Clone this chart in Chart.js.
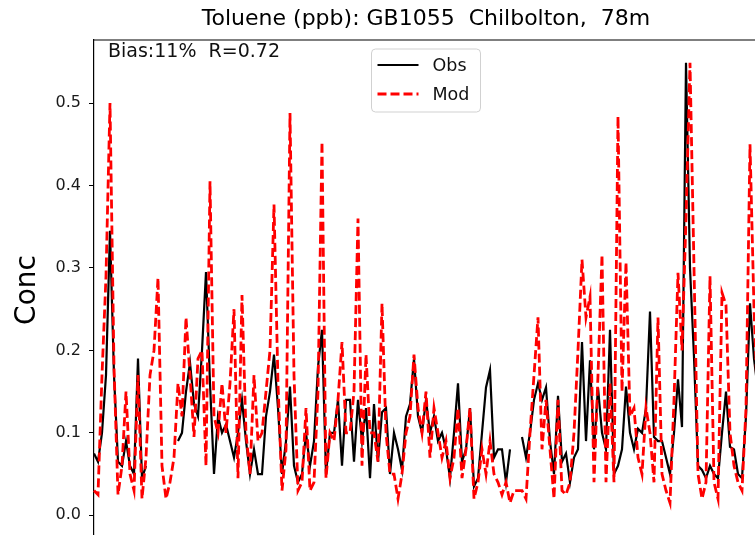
<!DOCTYPE html>
<html><head><meta charset="utf-8">
<script src="https://cdn.jsdelivr.net/npm/chart.js@4.4.0/dist/chart.umd.min.js"></script>
<style>html,body{margin:0;padding:0;background:#fff;overflow:hidden;width:755px;height:535px}canvas{display:block}</style>
</head><body><canvas id="c" width="852" height="560"></canvas>
<script>
const chartTitle = 'Toluene (ppb): GB1055  Chilbolton,  78m';
const statsText = 'Bias:11%  R=0.72';
const yLabel = 'Conc';
const seriesNames = ['Obs', 'Mod'];
const yTicks = [0.0, 0.1, 0.2, 0.3, 0.4, 0.5];

const hours = [
  0,1,2,3,4,5,6,7,8,9,10,11,12,13,14,15,16,17,18,19,
  20,21,22,23,24,25,26,27,28,29,30,31,32,33,34,35,36,37,38,39,
  40,41,42,43,44,45,46,47,48,49,50,51,52,53,54,55,56,57,58,59,
  60,61,62,63,64,65,66,67,68,69,70,71,72,73,74,75,76,77,78,79,
  80,81,82,83,84,85,86,87,88,89,90,91,92,93,94,95,96,97,98,99,
  100,101,102,103,104,105,106,107,108,109,110,111,112,113,114,115,116,117,118,119,
  120,121,122,123,124,125,126,127,128,129,130,131,132,133,134,135,136,137,138,139,
  140,141,142,143,144,145,146,147,148,149,150,151,152,153,154,155,156,157,158,159,
  160,161,162,163,164,165,166
];

const obs = [
  0.075,0.065,0.10,0.17,0.345,0.17,0.065,0.06,0.09,0.06,
  0.05,0.19,0.045,0.06,null,null,null,null,null,null,
  null,0.09,0.10,0.15,0.185,0.135,0.12,0.20,0.295,0.16,
  0.05,0.12,0.10,0.11,0.09,0.07,0.10,0.14,0.09,0.05,
  0.08,0.05,0.05,0.12,0.15,0.195,0.13,0.05,0.09,0.156,
  0.06,0.04,0.05,0.10,0.06,0.09,0.18,0.225,0.05,0.10,
  0.10,0.14,0.06,0.14,0.14,0.065,0.14,0.09,0.13,0.045,
  0.135,0.065,0.125,0.13,0.05,0.10,0.08,0.055,0.12,0.135,
  0.19,0.12,0.10,0.14,0.10,0.12,0.09,0.10,0.08,0.045,
  0.10,0.16,0.065,0.08,0.13,0.035,0.045,0.10,0.155,0.176,
  0.07,0.08,0.08,0.04,0.08,null,null,0.095,0.07,0.10,
  0.14,0.16,0.14,0.155,0.09,0.05,0.145,0.065,0.075,0.04,
  0.07,0.08,0.21,0.09,0.188,0.08,0.155,0.10,0.08,0.225,
  0.05,0.06,0.08,0.156,0.10,0.08,0.105,0.10,0.13,0.247,
  0.095,0.09,0.09,0.07,0.05,0.10,0.165,0.107,0.549,0.30,
  0.192,0.06,0.055,0.045,0.06,0.05,0.045,0.10,0.15,0.083,
  0.08,0.05,0.045,0.12,0.257,0.19,0.15
];

const mod = [
  0.03,0.025,0.17,0.29,0.50,0.18,0.025,0.06,0.15,0.05,
  0.03,0.17,0.02,0.07,0.17,0.20,0.288,0.06,0.02,0.04,
  0.07,0.16,0.12,0.24,0.17,0.095,0.19,0.20,0.06,0.405,
  0.12,0.10,0.16,0.10,0.16,0.25,0.045,0.267,0.10,0.05,
  0.17,0.09,0.10,0.15,0.20,0.377,0.16,0.03,0.08,0.488,
  0.17,0.03,0.04,0.13,0.03,0.04,0.15,0.453,0.045,0.10,
  0.09,0.14,0.21,0.10,0.10,0.15,0.36,0.06,0.195,0.10,
  0.10,0.065,0.257,0.10,0.05,0.05,0.02,0.05,0.10,0.12,
  0.195,0.13,0.10,0.15,0.07,0.13,0.10,0.07,0.09,0.045,
  0.07,0.13,0.045,0.08,0.13,0.02,0.04,0.08,0.05,0.09,
  0.05,0.04,0.025,0.04,0.015,0.03,0.03,0.03,0.02,0.10,
  0.17,0.24,0.08,0.14,0.08,0.02,0.14,0.03,0.025,0.04,
  0.10,0.20,0.31,0.24,0.265,0.04,0.17,0.316,0.04,0.16,
  0.04,0.484,0.15,0.307,0.12,0.13,0.07,0.05,0.13,0.10,
  0.04,0.24,0.05,0.03,0.015,0.14,0.294,0.20,0.36,0.549,
  0.30,0.05,0.02,0.04,0.29,0.04,0.02,0.27,0.255,0.10,
  0.06,0.04,0.03,0.13,0.45,0.25,0.12
];

const FONT = '"DejaVu Sans", Verdana, sans-serif';

const deco = {
  id: 'deco',
  afterDraw(chart) {
    const {ctx, chartArea: a} = chart;
    ctx.save();
    ctx.strokeStyle = '#000';
    ctx.lineWidth = 1.2;
    ctx.setLineDash([]);
    ctx.beginPath();
    ctx.moveTo(a.left, a.top); ctx.lineTo(a.right, a.top);
    ctx.lineTo(a.right, a.bottom); ctx.lineTo(a.left, a.bottom);
    ctx.stroke();

    ctx.fillStyle = '#000';
    ctx.textBaseline = 'middle';
    ctx.textAlign = 'center';
    ctx.font = '22px ' + FONT;
    ctx.fillText(chartTitle, (a.left + a.right) / 2, 19);

    ctx.textAlign = 'left';
    ctx.font = '19px ' + FONT;
    ctx.fillStyle = '#111';
    ctx.fillText(statsText, a.left + 14, a.top + 12);

    // legend (upper center)
    const cx = (a.left + a.right) / 2;
    const bw = 109, bh = 63;
    const bx = cx - bw / 2, by = a.top + 9;
    ctx.fillStyle = 'rgba(255,255,255,0.85)';
    ctx.strokeStyle = 'rgba(204,204,204,0.9)';
    ctx.lineWidth = 1;
    ctx.beginPath();
    ctx.roundRect(bx, by, bw, bh, 4);
    ctx.fill(); ctx.stroke();
    const ds = chart.data.datasets;
    const order = [1, 0];
    order.forEach((di, k) => {
      const d = ds[di];
      const y = by + 16 + k * 29;
      ctx.strokeStyle = d.borderColor;
      ctx.lineWidth = d.borderWidth;
      ctx.setLineDash(d.borderDash || []);
      ctx.beginPath();
      ctx.moveTo(bx + 6, y); ctx.lineTo(bx + 47, y);
      ctx.stroke();
      ctx.setLineDash([]);
      ctx.fillStyle = '#111';
      ctx.font = '17.5px ' + FONT;
      ctx.fillText(d.label, bx + 61, y + 1);
    });
    ctx.restore();
  }
};

new Chart(document.getElementById('c'), {
  type: 'line',
  data: {
    labels: hours,
    datasets: [
      { label: seriesNames[1], data: mod, borderColor: '#ff0000', borderWidth: 2.8,
        borderDash: [9, 4], pointRadius: 0, tension: 0, order: 0, spanGaps: false },
      { label: seriesNames[0], data: obs, borderColor: '#000000', borderWidth: 2.2,
        pointRadius: 0, tension: 0, order: 1, spanGaps: false }
    ]
  },
  options: {
    responsive: false,
    animation: false,
    layout: { padding: { top: 40, left: 0, right: 94, bottom: 20 } },
    plugins: { legend: { display: false }, tooltip: { enabled: false }, title: { display: false } },
    scales: {
      x: { type: 'category', display: false, offset: false },
      y: {
        min: -0.030, max: 0.5765,
        afterBuildTicks: (s) => { s.ticks = yTicks.map(v => ({ value: v })); },
        afterFit: (s) => { s.width = 94; },
        ticks: { padding: 8, color: '#1a1a1a', font: { family: FONT, size: 16 },
                 callback: (v) => Number(v).toFixed(1) },
        grid: { display: true, drawOnChartArea: false, drawTicks: true, tickLength: 5, color: '#000', lineWidth: 1 },
        border: { display: true, color: '#000', width: 1.2 },
        title: { display: true, text: yLabel, color: '#000', font: { family: FONT, size: 28 }, padding: { top: 11, bottom: 0 } }
      }
    }
  },
  plugins: [deco]
});
</script>
</body></html>
